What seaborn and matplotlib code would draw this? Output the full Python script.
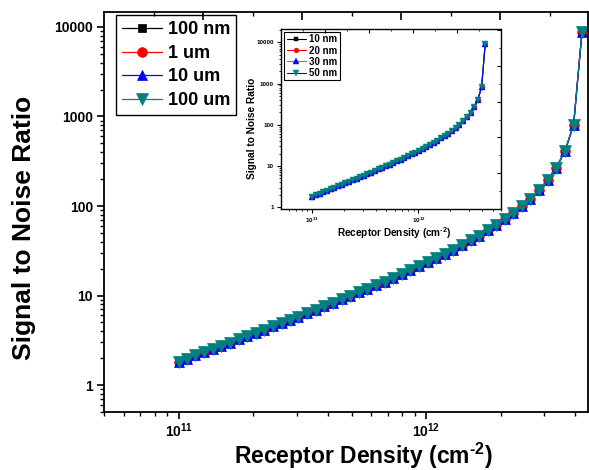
import numpy as np
import pandas as pd
import matplotlib
matplotlib.use("Agg")
import matplotlib.pyplot as plt
import seaborn as sns
from matplotlib.ticker import LogLocator, FixedLocator, NullFormatter, FixedFormatter

# ---------------- data ----------------
density_e11 = [1.00, 1.08, 1.17, 1.27, 1.38, 1.49, 1.61, 1.75, 1.89, 2.05, 2.22, 2.40,
               2.61, 2.82, 3.05, 3.31, 3.59, 3.88, 4.21, 4.56, 4.93, 5.35, 5.79, 6.27,
               6.79, 7.36, 7.96, 8.63, 9.35, 10.12, 10.96, 11.89, 12.85, 13.93, 15.10,
               16.33, 17.70, 19.19, 20.75, 22.49, 24.38, 26.36, 28.58, 30.97, 33.50,
               36.31, 39.36, 42.56]
snr = [1.82, 1.97, 2.14, 2.33, 2.53, 2.74, 2.97, 3.24, 3.51, 3.83, 4.16, 4.52,
       4.94, 5.36, 5.83, 6.37, 6.96, 7.58, 8.29, 9.06, 9.89, 10.9, 11.9, 13.0,
       14.3, 15.8, 17.4, 19.2, 21.2, 23.5, 26.1, 29.2, 32.5, 36.6, 41.3,
       46.7, 53.4, 61.5, 71.1, 83.6, 99.8, 121, 151, 196, 267,
       410, 806, 8870]

main_series = ["100 nm", "1 um", "10 um", "100 um"]
main_snr = [snr, snr, snr, snr]
inset_series = ["10 nm", "20 nm", "30 nm", "50 nm"]
inset_snr = [snr, snr, snr, snr]

x_tick_labels = [r"$10^{11}$", r"$10^{12}$"]
y_tick_labels = ["1", "10", "100", "1000", "10000"]
x_title = r"Receptor Density (cm$^{\text{-2}}$)"
y_title = "Signal to Noise Ratio"

# ---------------- style ----------------
sns.set_style("ticks")
plt.rcParams["font.family"] = ["Liberation Sans", "DejaVu Sans"]
plt.rcParams["font.weight"] = "bold"
plt.rcParams["axes.labelweight"] = "bold"
plt.rcParams["mathtext.fontset"] = "custom"
plt.rcParams["mathtext.rm"] = "Liberation Sans:bold"
plt.rcParams["mathtext.it"] = "Liberation Sans:bold"
plt.rcParams["mathtext.bf"] = "Liberation Sans:bold"
plt.rcParams["mathtext.default"] = "rm"
plt.rcParams["text.color"] = "black"
plt.rcParams["axes.labelcolor"] = "black"
plt.rcParams["xtick.color"] = "black"
plt.rcParams["ytick.color"] = "black"

W, H = 589, 470
fig = plt.figure(figsize=(W / 100, H / 100), dpi=100)

def frac_box(l, t, r, b):
    return [l / W, 1 - b / H, (r - l) / W, (b - t) / H]

ax = fig.add_axes(frac_box(104, 12, 588, 412))

main_markers = ["s", "o", "^", "v"]
main_colors = ["#000000", "#ff0000", "#0000ff", "#008080"]
main_msizes = [5.5, 7.0, 7.8, 8.5]

for name, vals, mk, col, ms in zip(main_series, main_snr, main_markers, main_colors, main_msizes):
    df = pd.DataFrame({"density": np.array(density_e11) * 1e11, "snr": vals})
    sns.lineplot(data=df, x="density", y="snr", ax=ax, marker=mk, color=col,
                 markersize=ms, markeredgecolor=col, markeredgewidth=0.5,
                 linewidth=0.9, label=name, errorbar=None)

ax.set_xscale("log")
ax.set_yscale("log")
ax.set_xlim(5.0e10, 4.5e12)
ax.set_ylim(0.5, 14700)

ax.xaxis.set_major_locator(FixedLocator([1e11, 1e12]))
ax.xaxis.set_major_formatter(FixedFormatter(x_tick_labels))
ax.xaxis.set_minor_locator(LogLocator(base=10, subs=np.arange(2, 10)))
ax.xaxis.set_minor_formatter(NullFormatter())
ax.yaxis.set_major_locator(FixedLocator([1, 10, 100, 1000, 10000]))
ax.yaxis.set_major_formatter(FixedFormatter(y_tick_labels))
ax.yaxis.set_minor_locator(LogLocator(base=10, subs=np.arange(2, 10)))
ax.yaxis.set_minor_formatter(NullFormatter())

for s in ax.spines.values():
    s.set_linewidth(1.3)
    s.set_color("black")
ax.tick_params(axis="both", which="major", direction="out", length=5, width=1.2,
               labelsize=10, pad=3, top=False, right=False, colors="black")
ax.tick_params(axis="x", which="major", pad=2)
ax.tick_params(axis="both", which="minor", direction="out", length=3, width=1.0,
               top=False, right=False)

ax.set_xlabel(x_title, fontsize=16.5, fontweight="bold", color="black")
ax.set_ylabel(y_title, fontsize=19, fontweight="bold", color="black")
ax.xaxis.set_label_coords(0.535, -0.072)
ax.yaxis.set_label_coords(-0.14, 0.46)

leg = ax.legend(loc="upper left", bbox_to_anchor=(0.025, 0.9925), borderaxespad=0,
                frameon=True, fancybox=False, edgecolor="black", framealpha=1,
                prop={"family": "Liberation Sans", "weight": "bold", "size": 13},
                handlelength=2.2, handletextpad=0.3, labelspacing=0.36,
                borderpad=0.35, labelcolor="black")
leg.get_frame().set_linewidth(1.0)

# linear-looking top axis ticks (Origin style)
axt = ax.twiny()
axt.set_xlim(0, 9.775)
axt.xaxis.set_major_locator(FixedLocator([2, 4, 6, 8]))
axt.xaxis.set_minor_locator(FixedLocator([1, 3, 5, 7, 9]))
axt.tick_params(axis="x", which="major", direction="in", length=6, width=1.2,
                top=True, bottom=False, labeltop=False, labelbottom=False)
axt.tick_params(axis="x", which="minor", direction="in", length=3, width=1.0,
                top=True, bottom=False)
for s in axt.spines.values():
    s.set_visible(False)

# ---------------- inset ----------------
ins = fig.add_axes(frac_box(281, 29, 501, 209))
inset_markers = ["s", "o", "^", "v"]
inset_line_colors = ["#000000", "#ff0000", "#00cc00", "#0000ff"]
inset_marker_colors = ["#000000", "#ff0000", "#0000ff", "#008080"]
inset_msizes = [3.0, 3.5, 3.8, 4.2]
for name, vals, mk, lc, mc, ms in zip(inset_series, inset_snr, inset_markers,
                                      inset_line_colors, inset_marker_colors, inset_msizes):
    df = pd.DataFrame({"density": np.array(density_e11) * 1e11, "snr": vals})
    sns.lineplot(data=df, x="density", y="snr", ax=ins, marker=mk, color=lc,
                 markersize=ms, markerfacecolor=mc, markeredgecolor=mc,
                 markeredgewidth=0.3, linewidth=0.8, label=name, errorbar=None)

ins.set_xscale("log")
ins.set_yscale("log")
ins.set_xlim(5.07e10, 6.0e12)
ins.set_ylim(0.91, 21000)
ins.xaxis.set_major_locator(FixedLocator([1e11, 1e12]))
ins.xaxis.set_major_formatter(FixedFormatter(x_tick_labels))
ins.xaxis.set_minor_locator(LogLocator(base=10, subs=np.arange(2, 10)))
ins.xaxis.set_minor_formatter(NullFormatter())
ins.yaxis.set_major_locator(FixedLocator([1, 10, 100, 1000, 10000]))
ins.yaxis.set_major_formatter(FixedFormatter(y_tick_labels))
ins.yaxis.set_minor_locator(LogLocator(base=10, subs=np.arange(2, 10)))
ins.yaxis.set_minor_formatter(NullFormatter())
for s in ins.spines.values():
    s.set_linewidth(1.0)
    s.set_color("black")
ins.tick_params(axis="both", which="major", direction="out", length=3, width=0.8,
                labelsize=4.5, pad=2, top=False, right=False, colors="black")
ins.tick_params(axis="both", which="minor", direction="out", length=1.5, width=0.6,
                top=False, right=False)
ins.set_xlabel(x_title, fontsize=7.2, fontweight="bold", color="black")
ins.set_ylabel(y_title, fontsize=7.3, fontweight="bold", color="black")
ins.xaxis.set_label_coords(0.516, -0.088)
ins.yaxis.set_label_coords(-0.11, 0.45)

ileg = ins.legend(loc="upper left", bbox_to_anchor=(0.014, 0.983), borderaxespad=0,
                  frameon=True, fancybox=False, edgecolor="black", framealpha=1,
                  prop={"family": "Liberation Sans", "weight": "bold", "size": 7},
                  handlelength=2.0, handletextpad=0.3, labelspacing=0.12,
                  borderpad=0.25, labelcolor="black")
ileg.get_frame().set_linewidth(0.8)

it = ins.twiny()
it.set_xlim(0, 10)
it.xaxis.set_major_locator(FixedLocator([2, 4, 6, 8]))
it.xaxis.set_minor_locator(FixedLocator([1, 3, 5, 7, 9]))
it.tick_params(axis="x", which="major", direction="in", length=3, width=0.8,
               top=True, bottom=False, labeltop=False, labelbottom=False)
it.tick_params(axis="x", which="minor", direction="in", length=1.5, width=0.6,
               top=True, bottom=False)
for s in it.spines.values():
    s.set_visible(False)

ir = ins.twinx()
ir.set_ylim(0, 5.03)
ir.yaxis.set_major_locator(FixedLocator([1, 2, 3, 4, 5]))
ir.yaxis.set_minor_locator(FixedLocator([0.5, 1.5, 2.5, 3.5, 4.5]))
ir.tick_params(axis="y", which="major", direction="in", length=3, width=0.8,
               right=True, left=False, labelright=False, labelleft=False)
ir.tick_params(axis="y", which="minor", direction="in", length=1.5, width=0.6,
               right=True, left=False)
for s in ir.spines.values():
    s.set_visible(False)

fig.savefig("out.png", dpi=100)
